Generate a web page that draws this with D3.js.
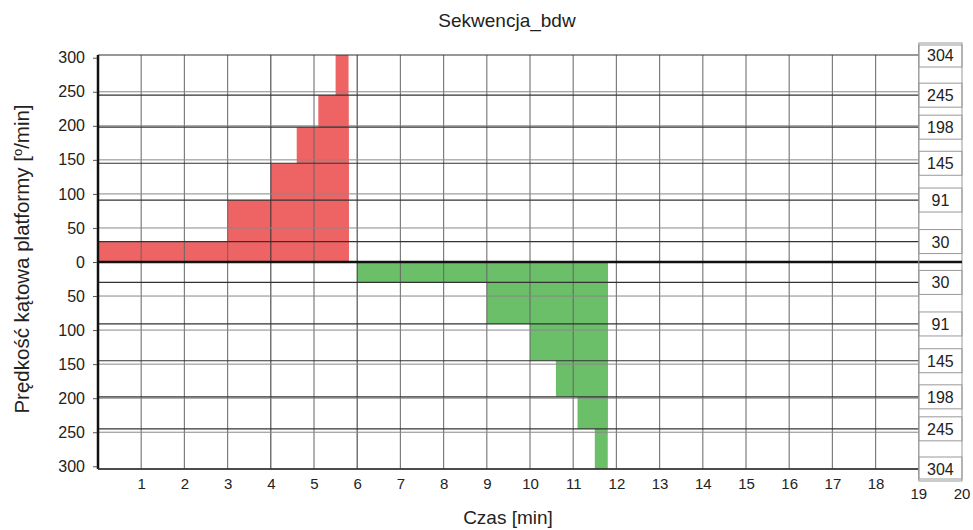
<!DOCTYPE html>
<html>
<head>
<meta charset="utf-8">
<script src="https://cdn.jsdelivr.net/npm/d3@7"></script>
<style>
  body { margin: 0; background: #fff; }
  text { font-family: "Liberation Sans", Arial, sans-serif; fill: #222; }
</style>
</head>
<body>
<div id="chart"></div>
<script>
// Sekwencja_bdw: step profile of platform angular speed vs time

const speeds = [30, 91, 145, 198, 245, 304];          // levels [deg/min]
const upStarts = [0, 3, 4, 4.6, 5.1, 5.5];             // start of each level, forward run [min]
const upEnd = 5.8;
const downStarts = [6, 9, 10, 10.6, 11.1, 11.5];       // start of each level, reverse run [min]
const downEnd = 11.8;
const timeTicks = [1, 2, 3, 4, 5, 6, 7, 8, 9, 10, 11, 12, 13, 14, 15, 16, 17, 18];
const extraTimeTicks = [19, 20];
const speedTicks = [300, 250, 200, 150, 100, 50, 0, -50, -100, -150, -200, -250, -300];

const width = 973, height = 530;
const plotLeft = 98, colRight = 962;
const font = '"Liberation Sans", Arial, sans-serif';

const svg = d3.select('#chart').append('svg')
    .attr('width', width)
    .attr('height', height);

const x = d3.scaleLinear().domain([0, 20]).range([plotLeft, colRight]);
const y = d3.scaleLinear().domain([-304, 304]).range([469, 55]);

// Bars (each level drawn from its start to the end of the run)
const upBars = speeds.map((v, i) => ({ x0: upStarts[i], x1: upEnd, v: v }));
const downBars = speeds.map((v, i) => ({ x0: downStarts[i], x1: downEnd, v: -v }));

svg.append('g').selectAll('rect')
    .data(upBars)
    .enter().append('rect')
    .attr('x', d => x(d.x0))
    .attr('y', d => y(d.v))
    .attr('width', d => x(d.x1) - x(d.x0))
    .attr('height', d => y(0) - y(d.v))
    .attr('fill', '#ee6464');

svg.append('g').selectAll('rect')
    .data(downBars)
    .enter().append('rect')
    .attr('x', d => x(d.x0))
    .attr('y', y(0))
    .attr('width', d => x(d.x1) - x(d.x0))
    .attr('height', d => y(d.v) - y(0))
    .attr('fill', '#6abf68');

// Vertical grid
svg.append('g').selectAll('line')
    .data(timeTicks)
    .enter().append('line')
    .attr('x1', d => x(d)).attr('x2', d => x(d))
    .attr('y1', y(304)).attr('y2', y(-304))
    .attr('stroke', d => (d === 4 || d === 6) ? '#333' : '#666')
    .attr('stroke-opacity', 0.85)
    .attr('stroke-width', 1.2);

// Horizontal grid at tick values
svg.append('g').selectAll('line')
    .data(speedTicks.filter(d => d !== 0 && Math.abs(d) !== 300))
    .enter().append('line')
    .attr('x1', plotLeft).attr('x2', x(19))
    .attr('y1', d => y(d)).attr('y2', d => y(d))
    .attr('stroke', '#888')
    .attr('stroke-width', 1);

// Right-hand value column
const col = svg.append('g');
col.append('rect')
    .attr('x', x(19)).attr('y', y(304) - 10)
    .attr('width', x(20) - x(19))
    .attr('height', y(-304) - y(304) + 20)
    .attr('fill', '#fff')
    .attr('stroke', '#999');

const levels = speeds.concat(speeds.map(v => -v));
col.selectAll('rect.cell')
    .data(levels)
    .enter().append('rect')
    .attr('class', 'cell')
    .attr('x', x(19)).attr('y', d => y(d) - 12)
    .attr('width', x(20) - x(19))
    .attr('height', 24)
    .attr('fill', 'none')
    .attr('stroke', '#999');

col.selectAll('text')
    .data(levels)
    .enter().append('text')
    .attr('x', (x(19) + x(20)) / 2)
    .attr('y', d => y(d) + 6)
    .attr('text-anchor', 'middle')
    .attr('font-size', 16)
    .text(d => Math.abs(d));

// Lines at the speed levels
svg.append('g').selectAll('line')
    .data(levels)
    .enter().append('line')
    .attr('x1', plotLeft).attr('x2', x(19))
    .attr('y1', d => y(d)).attr('y2', d => y(d))
    .attr('stroke', '#333')
    .attr('stroke-width', 1.2);

// Zero line, axes
svg.append('line')
    .attr('x1', plotLeft).attr('x2', x(20))
    .attr('y1', y(0)).attr('y2', y(0))
    .attr('stroke', '#111').attr('stroke-width', 2.5);

svg.append('line')
    .attr('x1', plotLeft).attr('x2', plotLeft)
    .attr('y1', y(304)).attr('y2', y(-304))
    .attr('stroke', '#111').attr('stroke-width', 2.5);

svg.append('line')
    .attr('x1', plotLeft).attr('x2', x(19))
    .attr('y1', y(-304)).attr('y2', y(-304))
    .attr('stroke', '#333').attr('stroke-width', 1.5);

svg.append('line')
    .attr('x1', x(19)).attr('x2', x(19))
    .attr('y1', y(304) - 10).attr('y2', y(-304) + 10)
    .attr('stroke', '#999');

// Y axis
const yAxis = d3.axisLeft(y)
    .tickValues(speedTicks)
    .tickSize(4)
    .tickPadding(8)
    .tickFormat(d => Math.abs(d));

svg.append('g')
    .attr('transform', `translate(${plotLeft - 1},0)`)
    .call(yAxis)
    .call(g => g.select('.domain').remove())
    .call(g => g.selectAll('text').attr('font-size', 16).attr('font-family', font).attr('fill', '#222'))
    .call(g => g.selectAll('line').attr('stroke', '#555'));

// X axis
const xAxis = d3.axisBottom(x)
    .tickValues(timeTicks)
    .tickSize(0)
    .tickPadding(9);

svg.append('g')
    .attr('transform', `translate(0,${y(-304)})`)
    .call(xAxis)
    .call(g => g.select('.domain').remove())
    .call(g => g.selectAll('text').attr('font-size', 15).attr('font-family', font).attr('fill', '#222'));

svg.append('g').selectAll('text')
    .data(extraTimeTicks)
    .enter().append('text')
    .attr('x', d => x(d))
    .attr('y', 499)
    .attr('text-anchor', 'middle')
    .attr('font-size', 15)
    .text(d => d);

// Titles
svg.append('text')
    .attr('x', 507).attr('y', 27)
    .attr('text-anchor', 'middle')
    .attr('font-size', 19)
    .text('Sekwencja_bdw');

svg.append('text')
    .attr('x', 508).attr('y', 524)
    .attr('text-anchor', 'middle')
    .attr('font-size', 19)
    .text('Czas [min]');

const yl = svg.append('text')
    .attr('transform', `translate(29,${y(0) - 3}) rotate(-90)`)
    .attr('text-anchor', 'middle')
    .attr('font-size', 20.5);
yl.append('tspan').text('Prędkość kątowa platformy [');
yl.append('tspan').attr('font-size', 13).attr('dy', -7).text('o');
yl.append('tspan').attr('dy', 7).text('/min]');
</script>
</body>
</html>
